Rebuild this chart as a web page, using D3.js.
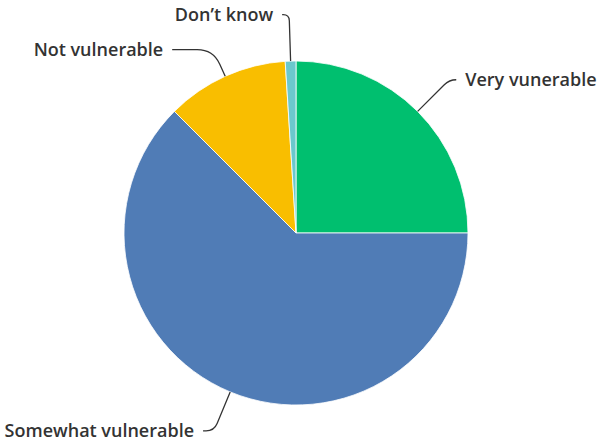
<!DOCTYPE html>
<html><head><meta charset="utf-8">
<script src="https://cdn.jsdelivr.net/npm/d3@7"></script>
<style>body{margin:0;background:#fff}svg{display:block}</style>
</head><body>
<script>
const categories = ["Very vunerable", "Somewhat vulnerable", "Not vulnerable", "Don\u2019t know"];
const values = [25.0, 62.5, 11.5, 1.0];
const colors = ["#00BF6F", "#507CB6", "#F9BE00", "#6BC8CD"];

// leader-line layout (elbow radius factor, horizontal run, bend size)
const leaderLayout = [
  {r: 1.26, h: 7, k: 7},
  {r: 1.245, h: 11, k: 8},
  {r: 1.17, h: 41, k: 16},
  {r: 1.27, h: 7, k: 6}
];

const W = 602, H = 445, cx = 296, cy = 233, R = 172;
const svg = d3.select("body").append("svg").attr("width", W).attr("height", H);
const g = svg.append("g").attr("transform", `translate(${cx},${cy})`);
const pie = d3.pie().sort(null).value(d => d.v);
const data = pie(categories.map((c, i) => ({c, v: values[i], col: colors[i]})));
const arc = d3.arc().innerRadius(0).outerRadius(R);
g.selectAll("path.slice").data(data).join("path").attr("class","slice")
  .attr("d", arc).attr("fill", d => d.data.col).attr("stroke", "#fff").attr("stroke-width", 0.8);

data.forEach((d, i) => {
  const lay = leaderLayout[i];
  const a = (d.startAngle + d.endAngle) / 2;
  const s = Math.sin(a), c = -Math.cos(a);
  const dir = s > 0 ? 1 : -1;
  const p0 = [R * s, R * c];
  const e = [R * lay.r * s, R * lay.r * c];
  const len = Math.hypot(e[0]-p0[0], e[1]-p0[1]);
  const f = Math.max(0, 1 - lay.k / len);
  const m = [p0[0] + (e[0]-p0[0])*f, p0[1] + (e[1]-p0[1])*f];
  const b = [e[0] + dir * Math.min(lay.k, lay.h), e[1]];
  const end = [e[0] + dir * lay.h, e[1]];
  const p = d3.path();
  p.moveTo(p0[0], p0[1]);
  p.lineTo(m[0], m[1]);
  p.quadraticCurveTo(e[0], e[1], b[0], b[1]);
  p.lineTo(end[0], end[1]);
  g.append("path").attr("d", p.toString()).attr("fill", "none").attr("stroke", "#333").attr("stroke-width", 1.3);
  g.append("text").attr("x", end[0] + dir * 9).attr("y", end[1])
    .attr("dy", "0.35em").attr("text-anchor", dir > 0 ? "start" : "end")
    .attr("font-family", "'Open Sans', sans-serif").attr("font-weight", 600).attr("font-size", 18)
    .attr("fill", "#333").text(d.data.c);
});
</script>
</body></html>
